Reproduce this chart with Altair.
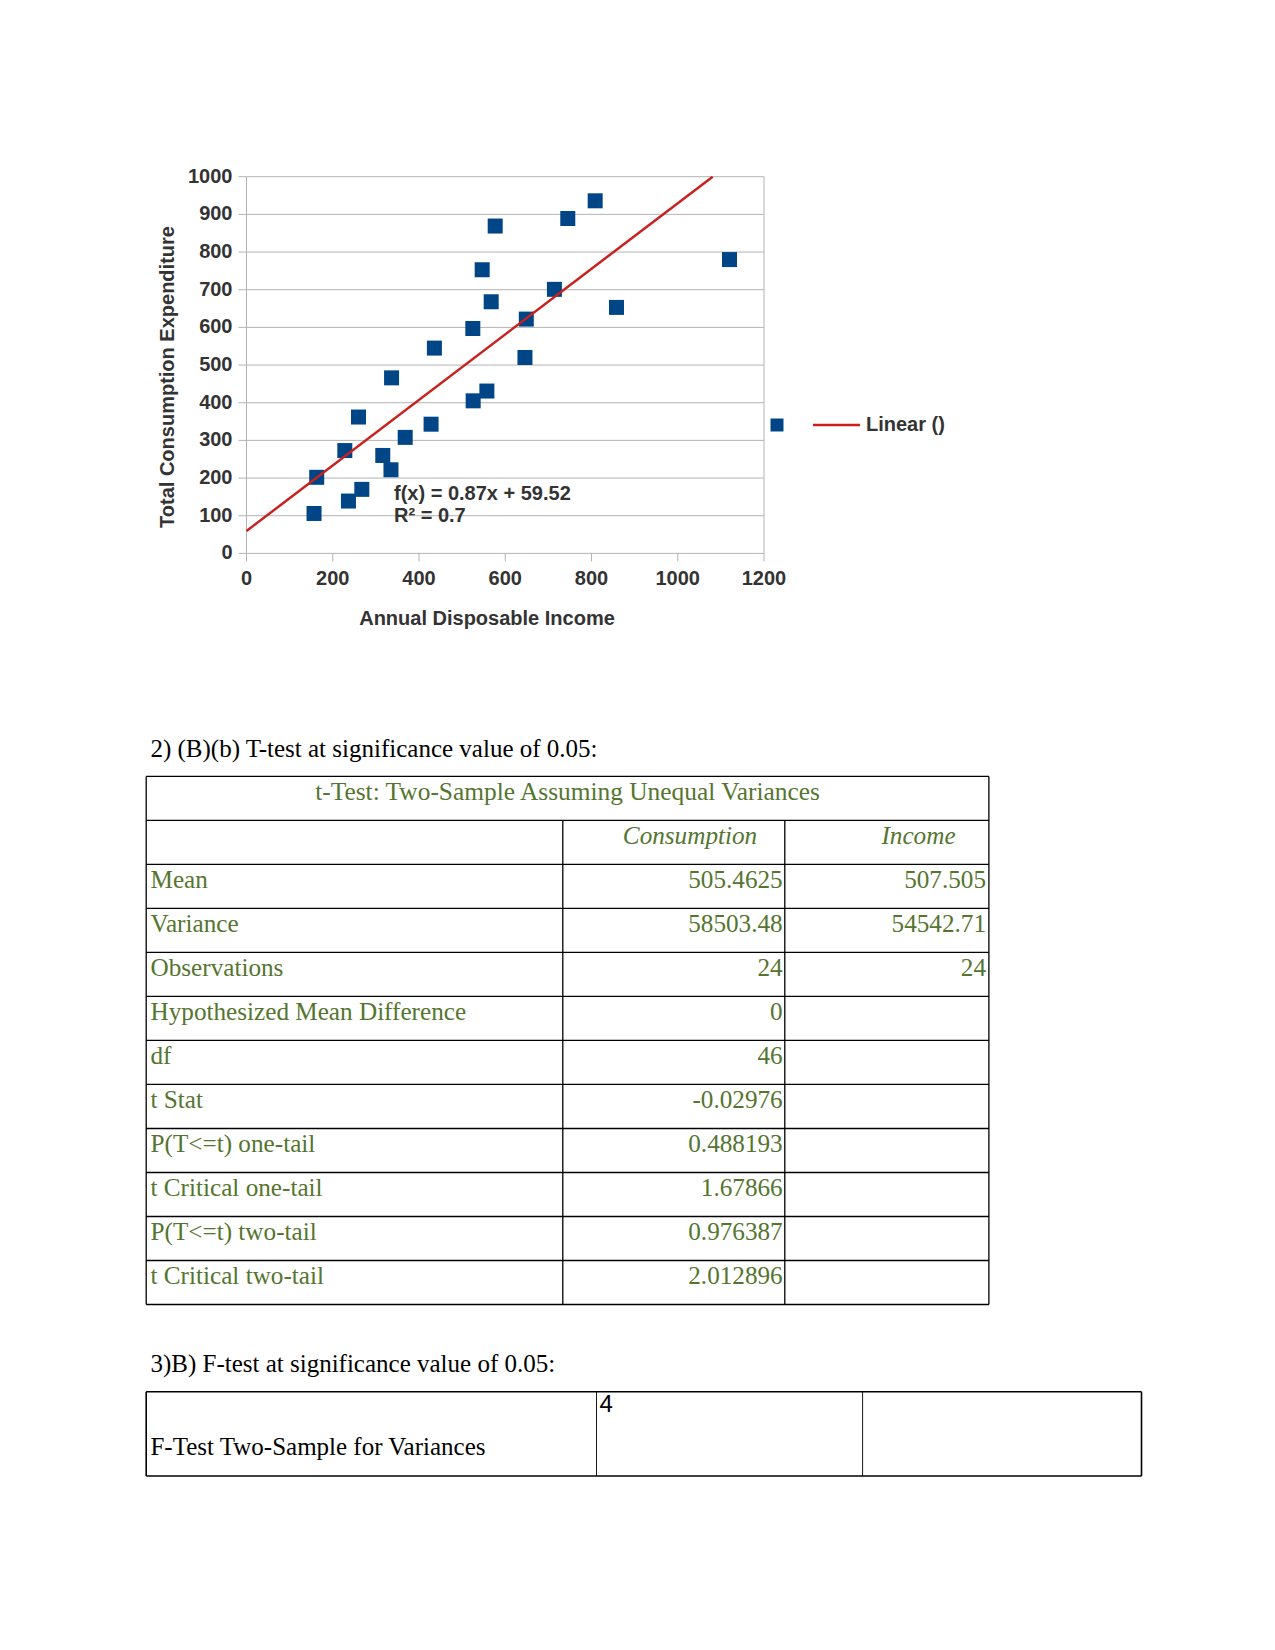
import altair as alt
import pandas as pd

# ---------------- data ----------------
income = [156.6, 162.8, 228, 236.4, 259.7, 267.4, 316, 335, 336.4, 368, 428, 435.7,
          524.8, 525.6, 557.4, 546.5, 567.4, 576.7, 645.7, 648.8, 714, 745, 808.5, 1120, 858]
consumption = [106, 202, 273, 139, 362, 170, 260, 222, 466, 308, 343, 545,
               597, 405, 431, 753, 668, 869, 520, 622, 701, 889, 936, 780, 653]
x_ticks = [0, 200, 400, 600, 800, 1000, 1200]
y_ticks = [0, 100, 200, 300, 400, 500, 600, 700, 800, 900, 1000]
slope, intercept = 0.87, 59.52
eq_lines = ["f(x) = 0.87x + 59.52", "R² = 0.7"]
x_title = "Annual Disposable Income"
y_title = "Total Consumption Expenditure"
legend_label = "Linear ()"

headings = ["2) (B)(b) T-test at significance value of 0.05:",
            "3)B) F-test at significance value of 0.05:"]
t_title = "t-Test: Two-Sample Assuming Unequal Variances"
t_cols = ["Consumption", "Income"]
t_labels = ["Mean", "Variance", "Observations", "Hypothesized Mean Difference", "df",
            "t Stat", "P(T<=t) one-tail", "t Critical one-tail", "P(T<=t) two-tail",
            "t Critical two-tail"]
t_consumption = ["505.4625", "58503.48", "24", "0", "46", "-0.02976", "0.488193",
                 "1.67866", "0.976387", "2.012896"]
t_income = ["507.505", "54542.71", "24", "", "", "", "", "", "", ""]
f_title = "F-Test Two-Sample for Variances"
f_cell = "4"

# ---------------- layout / style ----------------
W, H = 1275, 1650
PX0, PX1 = 246.5, 764.0
PY0, PY1 = 553.4, 176.7
TICK = 8
GRID = "#b3b3b3"
TXT = "#333333"
BLUE = "#004586"
RED = "#c9211e"
GREEN = "#55752f"
SANS = "Liberation Sans"
SERIF = "Liberation Serif"

xs = alt.Scale(domain=[0, 1200], range=[PX0, PX1], nice=False, zero=False)
ys = alt.Scale(domain=[0, 1000], range=[PY0, PY1], nice=False, zero=False)

ONE = pd.DataFrame({"k": [0]})

pts = pd.DataFrame({"income": income, "consumption": consumption})
grid_df = pd.DataFrame({"g": y_ticks, "x0": 0, "x1": 1200})
frame_df = pd.DataFrame({"x": [0, 1200], "y0": 0, "y1": 1000})
xt_df = pd.DataFrame({"v": x_ticks})
yt_df = pd.DataFrame({"v": y_ticks})
x_end = (1000 - intercept) / slope
trend_df = pd.DataFrame({"x": [0, x_end], "y": [intercept, 1000]})

grid = alt.Chart(grid_df).mark_rule(color=GRID, strokeWidth=1).encode(
    y=alt.Y("g:Q", scale=ys, axis=None),
    x=alt.X("x0:Q", scale=xs, axis=None), x2="x1:Q")
frame = alt.Chart(frame_df).mark_rule(color=GRID, strokeWidth=1).encode(
    x=alt.X("x:Q", scale=xs, axis=None),
    y=alt.Y("y0:Q", scale=ys, axis=None), y2="y1:Q")
y_tick_marks = alt.Chart(yt_df).mark_rule(color=GRID, strokeWidth=1).encode(
    y=alt.Y("v:Q", scale=ys, axis=None), x=alt.value(PX0 - TICK), x2=alt.value(PX0))
x_tick_marks = alt.Chart(xt_df).mark_rule(color=GRID, strokeWidth=1).encode(
    x=alt.X("v:Q", scale=xs, axis=None), y=alt.value(PY0), y2=alt.value(PY0 + TICK))
y_tick_labels = alt.Chart(yt_df).mark_text(
    align="right", baseline="middle", font=SANS, fontSize=20, fontWeight="bold",
    color=TXT).encode(
    y=alt.Y("v:Q", scale=ys, axis=None), x=alt.value(232.5),
    text=alt.Text("v:Q", format="d"))
x_tick_labels = alt.Chart(xt_df).mark_text(
    align="center", baseline="middle", font=SANS, fontSize=20, fontWeight="bold",
    color=TXT).encode(
    x=alt.X("v:Q", scale=xs, axis=None), y=alt.value(579),
    text=alt.Text("v:Q", format="d"))
points = alt.Chart(pts).mark_square(size=225, color=BLUE, opacity=1).encode(
    x=alt.X("income:Q", scale=xs, axis=None),
    y=alt.Y("consumption:Q", scale=ys, axis=None))
trend = alt.Chart(trend_df).mark_line(color=RED, strokeWidth=2.5).encode(
    x=alt.X("x:Q", scale=xs, axis=None),
    y=alt.Y("y:Q", scale=ys, axis=None))

scatter = alt.layer(grid, frame, y_tick_marks, x_tick_marks, y_tick_labels,
                    x_tick_labels, points, trend)


def text_at(txt, x, y, size=20, font=SANS, weight="bold", color=TXT, align="left",
            baseline="alphabetic", angle=0, style="normal"):
    kw = dict(align=align, baseline=baseline, font=font, fontSize=size,
              fontWeight=weight, color=color, fontStyle=style)
    if angle:
        kw["angle"] = angle
    return alt.Chart(ONE).mark_text(**kw).encode(
        x=alt.value(x), y=alt.value(y), text=alt.value(txt))


def rule_at(x, x2, y, y2, w=1.3, color="black"):
    return alt.Chart(ONE).mark_rule(color=color, strokeWidth=w).encode(
        x=alt.value(x), x2=alt.value(x2), y=alt.value(y), y2=alt.value(y2))


chart_text = [
    text_at(eq_lines[0], 394, 500),
    text_at(eq_lines[1], 394, 521.7),
    text_at(x_title, 487, 619, align="center", baseline="middle"),
    text_at(y_title, 168, 377, align="center", baseline="middle", angle=270),
    text_at(legend_label, 866, 425, baseline="middle"),
]
legend_sq = alt.Chart(ONE).mark_square(size=169, color=BLUE, opacity=1).encode(
    x=alt.value(777), y=alt.value(425))
legend_line = rule_at(813, 860, 425, 425, w=2.5, color=RED)

# ---------------- table 1 ----------------
T1_TOP, T1_RH = 776.4, 44.01
T1_L, T1_C1, T1_C2, T1_R = 146.2, 562.8, 784.8, 988.9
T1_BOT = T1_TOP + 12 * T1_RH
ty = alt.Scale(domain=[0, 12], range=[T1_TOP, T1_BOT], nice=False, zero=False)

rows = pd.DataFrame({"i": list(range(2, 2 + len(t_labels))), "label": t_labels,
                     "cons": t_consumption, "inc": t_income})
lines_df = pd.DataFrame({"b": list(range(13))})


def row_text(field, x, align, color=GREEN):
    return alt.Chart(rows).mark_text(align=align, baseline="alphabetic", dy=23.5,
                                     font=SERIF, fontSize=25.2, color=color).encode(
        y=alt.Y("i:Q", scale=ty, axis=None), x=alt.value(x), text=f"{field}:N")


t_row_lines = alt.Chart(lines_df).mark_rule(color="black", strokeWidth=1.3).encode(
    y=alt.Y("b:Q", scale=ty, axis=None), x=alt.value(T1_L), x2=alt.value(T1_R))

table1 = alt.layer(
    t_row_lines,
    row_text("label", 150.5, "left"),
    row_text("cons", 782.7, "right"),
    row_text("inc", 986.0, "right"),
)

table1_fixed = [
    rule_at(T1_L, T1_L, T1_TOP, T1_BOT),
    rule_at(T1_R, T1_R, T1_TOP, T1_BOT),
    rule_at(T1_C1, T1_C1, T1_TOP + T1_RH, T1_BOT),
    rule_at(T1_C2, T1_C2, T1_TOP + T1_RH, T1_BOT),
    text_at(t_title, (T1_L + T1_R) / 2, T1_TOP + 23.5, size=25.4, font=SERIF,
            weight="normal", color=GREEN, align="center"),
    text_at(t_cols[0], 690, T1_TOP + T1_RH + 23.5, size=25.2, font=SERIF,
            weight="normal", color=GREEN, align="center", style="italic"),
    text_at(t_cols[1], 918.5, T1_TOP + T1_RH + 23.5, size=25.2, font=SERIF,
            weight="normal", color=GREEN, align="center", style="italic"),
]

# ---------------- headings & table 2 ----------------
T2_L, T2_C1, T2_C2, T2_R = 146.2, 596.5, 862.6, 1141.5
T2_TOP, T2_BOT = 1391.8, 1476.0
doc_parts = [
    text_at(headings[0], 150.4, 756.5, size=25, font=SERIF, weight="normal", color="black"),
    text_at(headings[1], 150.4, 1371.5, size=25, font=SERIF, weight="normal", color="black"),
    rule_at(T2_L, T2_R, T2_TOP, T2_TOP, w=1.6),
    rule_at(T2_L, T2_R, T2_BOT, T2_BOT, w=1.6),
    rule_at(T2_L, T2_L, T2_TOP, T2_BOT, w=1.6),
    rule_at(T2_R, T2_R, T2_TOP, T2_BOT, w=1.6),
    rule_at(T2_C1, T2_C1, T2_TOP, T2_BOT, w=0.9),
    rule_at(T2_C2, T2_C2, T2_TOP, T2_BOT, w=0.9),
    text_at(f_title, 150.4, 1455, size=25, font=SERIF, weight="normal", color="black"),
    text_at(f_cell, 599.5, 1412, size=24, font=SANS, weight="normal", color="black"),
]

chart = alt.layer(
    scatter, table1, legend_sq, legend_line, *chart_text, *table1_fixed, *doc_parts
).resolve_scale(x="independent", y="independent").properties(
    width=W, height=H, autosize=alt.AutoSizeParams(type="none"), padding=0,
    background="white"
).configure_view(strokeWidth=0)

chart.save("out.html", embed_options={"renderer": "svg", "actions": False})
